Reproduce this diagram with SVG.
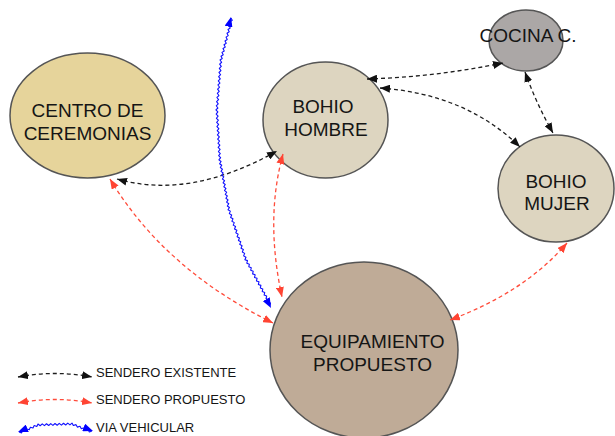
<svg xmlns="http://www.w3.org/2000/svg" width="615" height="436" viewBox="0 0 615 436">
<style>
.node{stroke:#555555;stroke-width:1.5}
.lbl{font-family:"Liberation Sans",Arial,sans-serif;font-size:19px;fill:#151515;text-anchor:middle}
.leg{font-family:"Liberation Sans",Arial,sans-serif;font-size:13px;fill:#151515}
.ex{fill:none;stroke:#1e1e1e;stroke-width:1.3;stroke-dasharray:4 3;marker-start:url(#ab);marker-end:url(#ab)}
.pr{fill:none;stroke:#ff4b3a;stroke-width:1.3;stroke-dasharray:4 3;marker-start:url(#ar);marker-end:url(#ar)}
.wv{fill:none;stroke:#1010ff;stroke-width:1.1;stroke-linejoin:round}
.guide{fill:none;stroke:none;marker-start:url(#abl);marker-end:url(#abl)}
</style>
<defs>
<marker id="ab" viewBox="0 0 10 8" refX="10" refY="4" markerWidth="10" markerHeight="8" markerUnits="userSpaceOnUse" orient="auto-start-reverse"><path d="M0,0L10,4L0,8z" fill="#111"/></marker>
<marker id="ar" viewBox="0 0 10 8" refX="10" refY="4" markerWidth="10" markerHeight="8" markerUnits="userSpaceOnUse" orient="auto-start-reverse"><path d="M0,0L10,4L0,8z" fill="#ff4433"/></marker>
<marker id="abl" viewBox="0 0 10 8" refX="10" refY="4" markerWidth="10" markerHeight="8" markerUnits="userSpaceOnUse" orient="auto-start-reverse"><path d="M0,0L10,4L0,8z" fill="#0000ff"/></marker>
</defs>
<rect width="615" height="436" fill="#ffffff"/>
<g id="centro">
<ellipse class="node" cx="87.5" cy="115.5" rx="77.5" ry="62.5" fill="#e6d49b"/>
<text class="lbl" x="87.5" y="117">CENTRO DE</text>
<text class="lbl" x="87.5" y="140">CEREMONIAS</text>
</g>
<g id="bohio-hombre">
<ellipse class="node" cx="325.5" cy="120" rx="62.5" ry="58" fill="#ddd5c0"/>
<text class="lbl" x="323" y="113">BOHIO</text>
<text class="lbl" x="326" y="136">HOMBRE</text>
</g>
<g id="cocina">
<ellipse class="node" cx="526" cy="40.5" rx="37" ry="30.5" fill="#aba7a6"/>
<text class="lbl" x="528" y="42">COCINA C.</text>
</g>
<g id="bohio-mujer">
<ellipse class="node" cx="556" cy="188.5" rx="58" ry="53.5" fill="#ddd5c0"/>
<text class="lbl" x="556" y="188">BOHIO</text>
<text class="lbl" x="557" y="210">MUJER</text>
</g>
<g id="equipamiento">
<ellipse class="node" cx="364" cy="350" rx="94" ry="88" fill="#bfab97"/>
<text class="lbl" x="372.5" y="348">EQUIPAMIENTO</text>
<text class="lbl" x="372.5" y="371">PROPUESTO</text>
</g>
<g id="connectors">
<path class="ex" d="M117,179 Q190,200 277,151"/>
<path class="ex" d="M367,79 Q435,77 503,63"/>
<path class="ex" d="M380,88 Q466,94 520,147"/>
<path class="ex" d="M525,72 Q536,103 553,133"/>
<path class="pr" d="M110,179 Q164,269 273,323"/>
<path class="pr" d="M283,154 Q265,219 282,297"/>
<path class="pr" d="M567,243 Q525,292 450,320"/>
<path class="wv" d="M231,18 l1.24,2.37 -2.24,1.45 1.24,2.37 -2.24,1.45 1.24,2.37 -2.24,1.45 1.24,2.37 -2.24,1.45 1.24,2.37 -2.24,1.45 1.24,2.37 -2.24,1.45 1.24,2.37 -2.24,1.45 1.24,2.37 -2.24,1.45 1.24,2.37 -2.24,1.45 1.24,2.37 -2.24,1.45 1.24,2.37 -2.24,1.45 1.62,2.22 -1.96,1.94 1.62,2.22 -1.96,1.94 1.62,2.22 -1.96,1.94 1.62,2.22 -1.96,1.94 1.62,2.22 -1.96,1.94 1.62,2.22 -1.96,1.94 1.62,2.22 -1.96,1.94 1.62,2.22 -1.96,1.94 1.62,2.22 -1.96,1.94 1.62,2.22 -1.96,1.94 1.62,2.22 -1.96,1.94 1.62,2.22 -1.96,1.94 1.93,1.97 -1.68,2.19 1.93,1.97 -1.68,2.19 1.93,1.97 -1.68,2.19 1.93,1.97 -1.68,2.19 1.93,1.97 -1.68,2.19 1.93,1.97 -1.68,2.19 1.93,1.97 -1.68,2.19 1.93,1.97 -1.68,2.19 1.93,1.97 -1.68,2.19 1.93,1.97 -1.68,2.19 1.93,1.97 -1.68,2.19 1.93,1.97 -1.68,2.19 2.12,1.6 -1.42,2.24 2.12,1.6 -1.42,2.24 2.12,1.6 -1.42,2.24 2.12,1.6 -1.42,2.24 2.12,1.6 -1.42,2.24 2.12,1.6 -1.42,2.24 2.12,1.6 -1.42,2.24 2.12,1.6 -1.42,2.24 2.12,1.6 -1.42,2.24 2.12,1.6 -1.42,2.24 2.12,1.6 -1.42,2.24 2.12,1.6 -1.42,2.24 2.12,1.6 -1.42,2.24 2.35,1.34 -1.05,2.5 2.35,1.34 -1.05,2.5 2.35,1.34 -1.05,2.5 2.35,1.34 -1.05,2.5 2.35,1.34 -1.05,2.5 2.35,1.34 -1.05,2.5 2.35,1.34 -1.05,2.5 2.35,1.34 -1.05,2.5 2.35,1.34 -1.05,2.5 2.35,1.34 -1.05,2.5 2.35,1.34 -1.05,2.5 2.35,1.34 -1.05,2.5 2.35,1.34 -1.05,2.5 2.54,0.91 -0.62,2.63 2.54,0.91 -0.62,2.63 2.54,0.91 -0.62,2.63 2.54,0.91 -0.62,2.63 2.54,0.91 -0.62,2.63 2.54,0.91 -0.62,2.63 2.54,0.91 -0.62,2.63 2.54,0.91 -0.62,2.63 2.54,0.91 -0.62,2.63 2.54,0.91 -0.62,2.63 2.54,0.91 -0.62,2.63 2.54,0.91 -0.62,2.63 2.54,0.91 -0.62,2.63"/>
<path class="guide" d="M231,17 L220,60 L216,110 L219,160 L228,210 L245,260 L271,308"/>
</g>
<g id="legend">
<path class="ex" d="M18,377 Q55,370 92,377"/>
<text class="leg" x="96" y="377">SENDERO EXISTENTE</text>
<path class="pr" d="M18,403 Q55,396 92,403"/>
<text class="leg" x="96" y="404">SENDERO PROPUESTO</text>
<path class="wv" d="M19,432 l2.6,0.86 1.2,-2.46 2.6,0.86 1.2,-2.46 2.6,0.86 1.2,-2.46 2.6,0.86 1.2,-2.46 2.6,0.86 1.2,-2.46 2.175,1.74 2.075,-1.86 2.175,1.74 2.075,-1.86 2.175,1.74 2.075,-1.86 2.175,1.74 2.075,-1.86 2.175,1.74 2.075,-1.86 2.175,1.74 2.075,-1.86 2.175,1.74 2.075,-1.86 2.175,1.74 2.075,-1.86 1.33,2.47 2.67,-0.87 1.33,2.47 2.67,-0.87 1.33,2.47 2.67,-0.87 1.33,2.47 2.67,-0.87 1.33,2.47 2.67,-0.87"/>
<path class="guide" d="M18,432 L38,424 L72,423 L93,431"/>
<text class="leg" x="96" y="432">VIA VEHICULAR</text>
</g>
</svg>
